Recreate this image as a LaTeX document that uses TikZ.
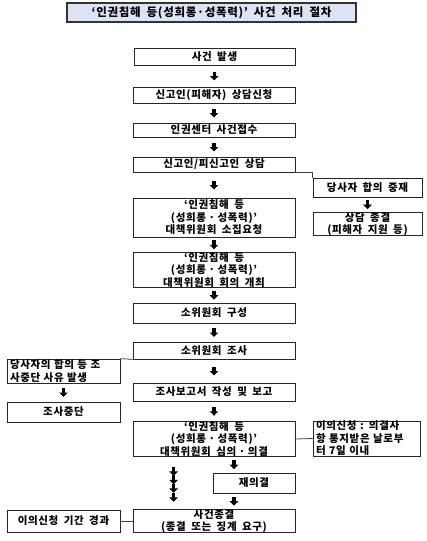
\documentclass[tikz,border=0pt]{standalone}
\usepackage{fontspec}
\setmainfont{Noto Sans CJK KR}[LetterSpace=6,WordSpace=1.8]
\usetikzlibrary{arrows.meta,calc}
\definecolor{titlefill}{RGB}{221,227,245}
\newcommand\mkbox[7][]{\node[box,#1,minimum width={#5-#3},minimum height={#6-#4}] (#2) at ({(#3+#5)/2},{(#4+#6)/2}) {#7};}
\newcommand\darr[2]{\draw[blk] ($(#1.south)!.5!(#2.north)+(0,-4.5)$) -- ($(#1.south)!.5!(#2.north)+(0,4.5)$);}
\newcommand\mdot{\hspace{0.25em}·\hspace{0.25em}}
\begin{document}
\begin{tikzpicture}[x=1pt,y=-1pt,
  box/.style={draw=black!85, line width=0.8pt, inner sep=0pt, font=\bfseries\fontsize{10.5}{12.5}\selectfont, align=center},
  lbox/.style={align=left, inner xsep=3pt, text width={#1}},
  blk/.style={line width=3.5pt, -{Triangle[width=8.5pt,length=4.5pt]}, black},
  conn/.style={draw=black!75, line width=0.8pt},
]
\useasboundingbox (0,0) rectangle (426,541);
\mkbox[fill=titlefill, draw=black!80, line width=1.2pt, font=\bfseries\fontsize{11.5}{13}\selectfont]{title}{67}{3}{356}{22}{‘인권침해 등(성희롱·성폭력)’ 사건 처리 절차}
\mkbox{b1}{134}{48}{295}{65}{사건 발생}
\mkbox{b2}{133}{87}{295}{103}{신고인(피해자) 상담신청}
\mkbox{b3}{133}{123}{295}{137}{인권센터 사건접수}
\mkbox{b4}{133}{157}{295}{172}{신고인/피신고인 상담}
\mkbox{b5}{133}{198}{295}{237}{‘인권침해 등\\(성희롱\mdot 성폭력)’\\대책위원회 소집요청}
\mkbox{b6}{133}{253}{295}{287}{‘인권침해 등\\(성희롱\mdot 성폭력)’\\대책위원회 회의 개최}
\mkbox{b7}{133}{303}{295}{323}{소위원회 구성}
\mkbox{b8}{133}{342}{295}{359}{소위원회 조사}
\mkbox{b9}{133}{383}{295}{401}{조사보고서 작성 및 보고}
\mkbox{b10}{133}{423}{295}{455}{‘인권침해 등\\(성희롱\mdot 성폭력)’\\대책위원회 심의\mdot 의결}
\mkbox{re}{213}{473}{295}{493}{재의결}
\mkbox{end}{133}{510}{295}{532}{사건종결\\(종결 또는 징계 요구)}
\mkbox{med}{313}{178}{422}{197}{당사자 합의 중재}
\mkbox{cons}{313}{213}{422}{235}{상담 종결\\(피해자 지원 등)}
\mkbox[lbox=107pt]{stop1}{7}{359}{120}{383}{당사자의 합의 등 조\\사중단 사유 발생}
\mkbox{stop2}{7}{402}{120}{422}{조사중단}
\mkbox[lbox=101pt]{appeal}{313}{422}{420}{455}{이의신청 : 의결사\\항 통지받은 날로부\\터 7일 이내}
\mkbox{lapse}{7}{510}{120}{532}{이의신청 기간 경과}
% arrows
\darr{b1}{b2}
\darr{b2}{b3}
\darr{b3}{b4}
\darr{b4}{b5}
\darr{b5}{b6}
\darr{b6}{b7}
\darr{b7}{b8}
\darr{b8}{b9}
\darr{b9}{b10}
\darr{med}{cons}
\darr{stop1}{stop2}
\darr{b10}{re}
\darr{re}{end}
\coordinate (st) at ($(b10.south west)+(41,0)$);
\foreach \y in {10,18.5,27,36}{
  \draw[blk] ($(st)+(0,\y)$) -- ($(st)+(0,\y+9)$);
}
% connectors
\draw[conn] (b4.south east) -| (med.north west);
\draw[conn] (b8.south west) -- (stop1.north east);
\draw[conn] (b10.east) -- (appeal.west);
\draw[conn] (lapse.east) -- (end.west);
\end{tikzpicture}
\end{document}
